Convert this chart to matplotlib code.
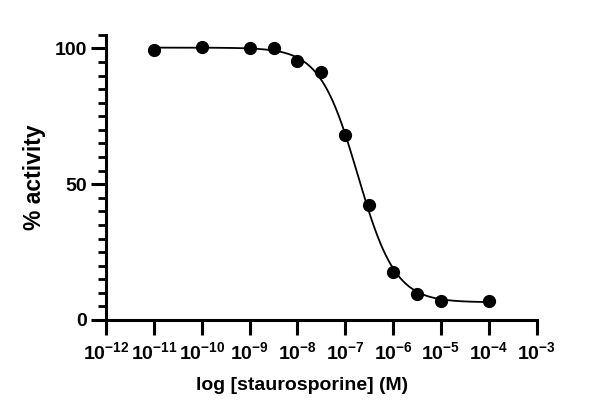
import numpy as np
import matplotlib
matplotlib.use("Agg")
from matplotlib import pyplot as plt
from matplotlib.ticker import FixedLocator, FixedFormatter

# measured points (log10 molar concentration, % activity)
log_conc = [-11, -10, -9, -8.5, -8, -7.5, -7, -6.5, -6, -5.5, -5, -4]
activity = [99.5, 100.5, 100.0, 100.0, 95.5, 91.5, 68.0, 42.5, 17.5, 9.5, 7.0, 7.0]

# four-parameter logistic fit
top = 100.3
bottom = 6.5
log_ic50 = -6.74
hill = 1.1

decades = list(range(-12, -2))
tick_labels = [r"$\mathbf{10^{%d}}$" % d for d in decades]

plt.rcParams['font.family'] = ['Liberation Sans', 'DejaVu Sans']
plt.rcParams['mathtext.fontset'] = 'custom'
plt.rcParams['mathtext.rm'] = 'Liberation Sans:bold'
plt.rcParams['mathtext.bf'] = 'Liberation Sans:bold'

fig = plt.figure(figsize=(6.03, 4.15), dpi=100)
ax = fig.add_axes([0.176, 0.229, 0.714, 0.687])

xfit = np.linspace(log_conc[0], log_conc[-1], 400)
yfit = bottom + (top - bottom) / (1 + 10 ** ((xfit - log_ic50) * hill))
ax.plot(10.0 ** xfit, yfit, color='black', lw=1.3, zorder=2)
ax.plot(10.0 ** np.array(log_conc), activity, 'o', color='black', ms=8.5, zorder=3)

ax.set_xscale('log')
ax.set_xlim(10.0 ** decades[0], 10.0 ** decades[-1])
ax.set_ylim(0, 105)
ax.xaxis.set_major_locator(FixedLocator([10.0 ** d for d in decades]))
ax.xaxis.set_major_formatter(FixedFormatter(tick_labels))
ax.xaxis.set_minor_locator(FixedLocator([]))
ax.set_yticks([0, 50, 100])
ax.yaxis.set_minor_locator(FixedLocator([v for v in range(0, 106, 5) if v % 50]))

for s in ['top', 'right']:
    ax.spines[s].set_visible(False)
for s in ['left', 'bottom']:
    ax.spines[s].set_linewidth(2.2)
ax.tick_params(axis='both', which='major', length=11, width=2.2, labelsize=14)
ax.tick_params(axis='y', which='minor', length=6, width=2)
ax.tick_params(axis='x', pad=4)
ax.tick_params(axis='y', pad=3)
for lbl in ax.get_yticklabels():
    lbl.set_fontweight('bold')

ax.set_xlabel('log [staurosporine] (M)', fontsize=14, fontweight='bold')
ax.xaxis.set_label_coords(0.455, -0.2)
ax.set_ylabel('% activity', fontsize=16.5, fontweight='bold', labelpad=6)

fig.savefig('out.png', dpi=100)
